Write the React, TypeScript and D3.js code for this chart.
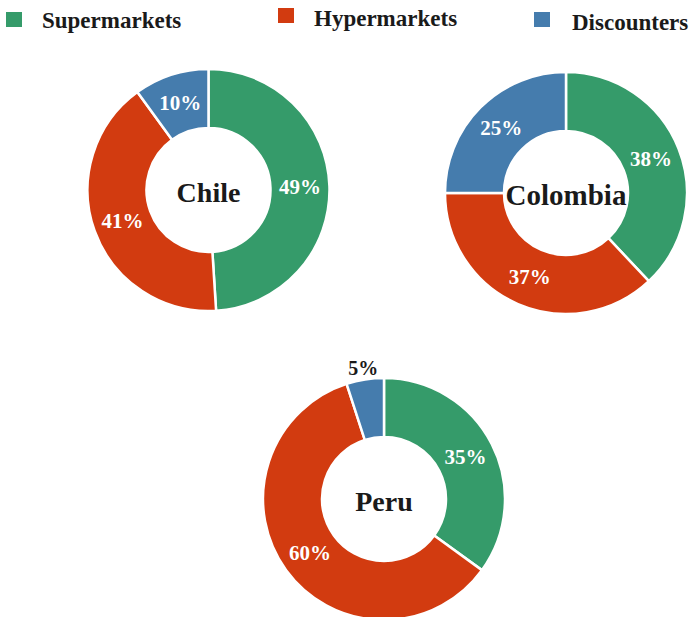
import React from "react";
import * as d3 from "d3";

const categories = ["Supermarkets", "Hypermarkets", "Discounters"];
const colors = ["#359b6a", "#d23b10", "#457cad"];
const countries = ["Chile", "Colombia", "Peru"];
const chileValues = [49, 41, 10];
const colombiaValues = [38, 37, 25];
const peruValues = [35, 60, 5];

const W = 694;
const H = 617;
const FONT = "'Liberation Serif', 'Times New Roman', serif";

const charts = [
  { name: countries[0], values: chileValues, cx: 208.5, cy: 190, nameSize: 28 },
  { name: countries[1], values: colombiaValues, cx: 566, cy: 193, nameSize: 29 },
  { name: countries[2], values: peruValues, cx: 384, cy: 499, nameSize: 28 },
];

const legendPos = [
  { sx: 6, sy: 12, tx: 42, ty: 28 },
  { sx: 278, sy: 8, tx: 314, ty: 26 },
  { sx: 534, sy: 12, tx: 572, ty: 30 },
];

const R_OUT = 121;
const R_IN = 62;

export default function App() {
  const pie = d3.pie<number>().sort(null).value((d) => d);
  const arc = d3.arc<d3.PieArcDatum<number>>().innerRadius(R_IN).outerRadius(R_OUT);
  const labelArc = d3
    .arc<d3.PieArcDatum<number>>()
    .innerRadius((R_IN + R_OUT) / 2)
    .outerRadius((R_IN + R_OUT) / 2);
  const outArc = d3
    .arc<d3.PieArcDatum<number>>()
    .innerRadius(R_OUT + 12)
    .outerRadius(R_OUT + 12);

  return (
    <svg
      width={W}
      height={H}
      style={{ position: "fixed", left: 0, top: 0, background: "#fff" }}
      fontFamily={FONT}
    >
      {categories.map((c, i) => (
        <g key={c}>
          <rect x={legendPos[i].sx} y={legendPos[i].sy} width={16} height={15} fill={colors[i]} />
          <text x={legendPos[i].tx} y={legendPos[i].ty} fontSize={23} fontWeight="bold" fill="#1a1a1a">
            {c}
          </text>
        </g>
      ))}
      {charts.map((ch) => {
        const arcs = pie(ch.values);
        return (
          <g key={ch.name} transform={`translate(${ch.cx},${ch.cy})`}>
            {arcs.map((a, i) => (
              <path key={i} d={arc(a) || ""} fill={colors[i]} stroke="#fff" strokeWidth={2.5} />
            ))}
            {arcs.map((a, i) => {
              const small = a.endAngle - a.startAngle < 0.5;
              const [x, y] = small ? outArc.centroid(a) : labelArc.centroid(a);
              return (
                <text
                  key={"l" + i}
                  x={x}
                  y={y}
                  textAnchor="middle"
                  dominantBaseline="central"
                  fontSize={small ? 20 : 21}
                  fontWeight="bold"
                  fill={small ? "#1a1a1a" : "#fff"}
                >
                  {`${a.data}%`}
                </text>
              );
            })}
            <text
              x={0}
              y={2}
              textAnchor="middle"
              dominantBaseline="central"
              fontSize={ch.nameSize}
              fontWeight="bold"
              fill="#1a1a1a"
            >
              {ch.name}
            </text>
          </g>
        );
      })}
    </svg>
  );
}
